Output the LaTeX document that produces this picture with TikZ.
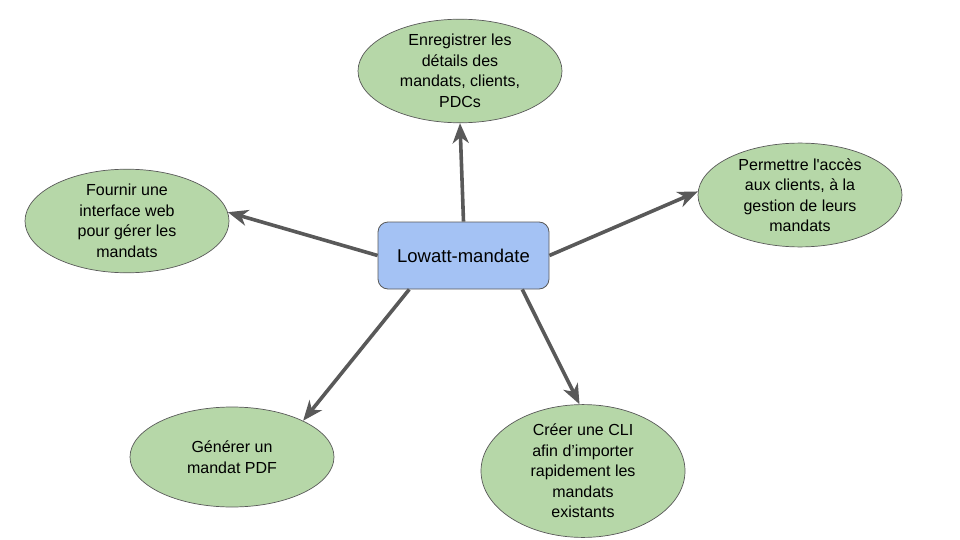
\documentclass[tikz,border=0pt]{standalone}
\usepackage{fontspec}
\setmainfont{Liberation Sans}[Ligatures=TeXOff]
\usetikzlibrary{arrows.meta,shapes.geometric}
\definecolor{boxblue}{HTML}{A4C2F4}
\definecolor{ellgreen}{HTML}{B6D7A8}
\definecolor{linegray}{HTML}{595959}
\tikzset{
  goal/.style={ellipse, draw=linegray, line width=0.7pt, fill=ellgreen,
    minimum width=204pt, minimum height=100pt, inner sep=0pt,
    align=center, font=\fontsize{16}{20.5}\selectfont},
  hub/.style={rectangle, rounded corners=10pt, draw=linegray, line width=0.8pt,
    fill=boxblue, minimum width=171pt, minimum height=67pt,
    font=\fontsize{18.5}{22}\selectfont},
  link/.style={draw=linegray, line width=3.6pt,
    -{Stealth[length=20pt,width=16pt,inset=6pt]}}
}
\begin{document}
\begin{tikzpicture}[x=1pt,y=-1pt]
\useasboundingbox (0,0) rectangle (960,540);
\node[hub] (c) at (463.5,255.5) {Lowatt-mandate};
\node[goal] (top) at (460,71) {Enregistrer les\\détails des\\mandats, clients,\\PDCs};
\node[goal] (right) at (800,195) {Permettre l'accès\\aux clients, à la\\gestion de leurs\\mandats};
\node[goal] (left) at (127,221) {Fournir une\\interface web\\pour gérer les\\mandats};
\node[goal] (bl) at (232,457) {Générer un\\mandat PDF};
\node[goal] (br) at (583,471) {Créer une CLI\\afin d’importer\\rapidement les\\mandats\\existants};
\draw[link] (c.north) -- (top.south);
\draw[link] (c.west) -- (left.5);
\draw[link] (c.east) -- (right.178);
\draw[link] (c.212) -- (bl.27);
\draw[link] (c.-30) -- (br.93);
\end{tikzpicture}
\end{document}
